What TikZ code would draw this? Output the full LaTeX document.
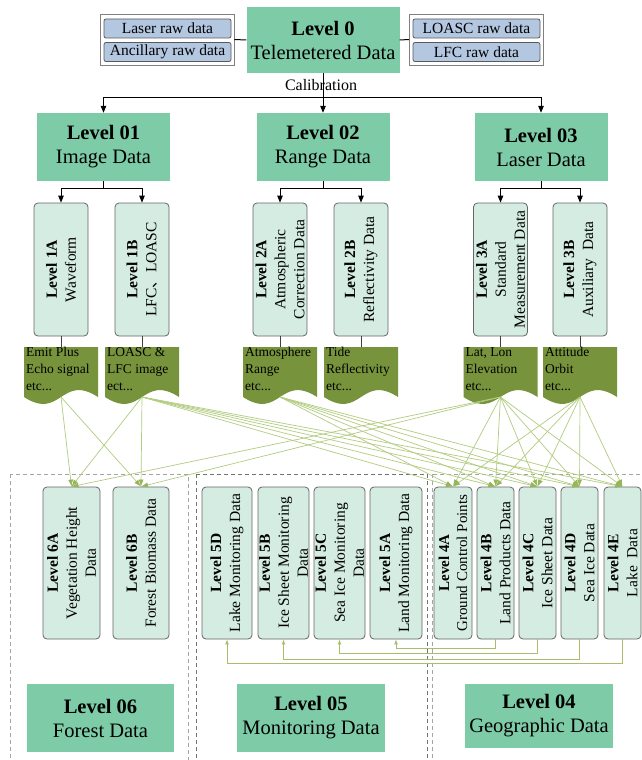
\documentclass[tikz,border=0pt]{standalone}
\usepackage{fontspec}
\setmainfont{Liberation Serif}
\newfontfamily\cjkfont{Noto Sans CJK SC}
\usetikzlibrary{arrows.meta}

\definecolor{lvgreen}{RGB}{126,203,168}
\definecolor{mint}{RGB}{212,236,225}
\definecolor{rawblue}{RGB}{180,199,225}
\definecolor{docolive}{RGB}{119,147,60}
\definecolor{fanline}{RGB}{178,204,128}
\definecolor{fanhead}{RGB}{150,182,88}
\definecolor{loopline}{RGB}{168,190,110}
\definecolor{framegray}{RGB}{165,165,165}

\tikzset{
  levelbox/.style={fill=lvgreen, minimum width=133pt, minimum height=68pt,
    align=center, inner sep=1pt, font=\fontsize{20.5}{24}\selectfont},
  subbox/.style={rotate=90, draw=black!60, fill=mint, line width=0.8pt,
    rounded corners=4pt, align=center, inner sep=1pt,
    font=\fontsize{15.5}{19}\selectfont},
  upperbox/.style={subbox, minimum width=133pt, minimum height=54pt},
  lowerbox/.style={subbox, minimum width=152pt},
  rawouter/.style={draw=black!50, fill=white, line width=0.8pt,
    minimum width=134pt, minimum height=51pt, inner sep=0pt},
  rawbox/.style={draw=black!65, fill=rawblue, rounded corners=2pt,
    line width=0.8pt, minimum width=127pt, minimum height=19pt,
    inner sep=0pt, font=\fontsize{15.5}{18}\selectfont},
  doctext/.style={anchor=north west, align=left, inner xsep=2pt,
    inner ysep=1pt, font=\fontsize{13.5}{17}\selectfont},
  flow/.style={line width=1pt, -{Triangle[length=7pt,width=5.5pt]}},
  plainline/.style={line width=1pt},
  fan/.style={draw=fanline, line width=0.7pt,
    -{Latex[length=7pt,width=5pt,fill=fanhead,color=fanhead]}},
  loopback/.style={draw=loopline, line width=0.9pt,
    -{Latex[length=5pt,width=4pt]}},
  frame/.style={draw=framegray, line width=0.9pt, dash pattern=on 4pt off 3pt},
}

% document symbol: flat top, wavy bottom; #1 name, #2 centre x, #3 text
\newcommand\docshape[3]{%
  \fill[docolive] ({#2-37},347) -- ({#2+37},347) -- ({#2+37},397)
    .. controls (#2,373) and (#2,421) .. ({#2-37},397) -- cycle;
  \node[doctext] (#1) at ({#2-37},346) {#3};
  \coordinate (#1-in) at (#2,347);
  \coordinate (#1-out) at (#2,397);
}

\begin{document}
\begin{tikzpicture}[x=1pt,y=-1pt]
\useasboundingbox (0,0) rectangle (642,760);
\fill[white] (0,0) rectangle (642,760);

% group frames
\draw[frame] (10,474) rectangle (188,770);
\draw[frame, draw=black!55] (196,474) rectangle (427,770);
\draw[frame] (432,474) rectangle (646,770);

% level 0 and raw data
\node[levelbox, minimum width=153pt, minimum height=66pt] (l0) at (323,40)
  {\textbf{Level 0}\\Telemetered Data};
\node[rawouter] (rawl) at (167,39.5) {};
\node[rawbox] (laser) at (167.5,28.5) {Laser raw data};
\node[rawbox] (ancil) at (167.5,52) {Ancillary raw data};
\node[rawouter] (rawr) at (476.5,39.5) {};
\node[rawbox] (loasc) at (476.5,28.5) {LOASC raw data};
\node[rawbox] (lfc) at (476.5,52) {LFC raw data};
\draw[plainline] (rawl.east) -- (l0.west);
\draw[plainline] (rawr.west) -- (l0.east);

% calibration split
\coordinate (calib) at (323,97);
\draw[plainline] (l0.south) -- (calib);
\node[font=\fontsize{16}{18}\selectfont, inner sep=0pt] (caltext) at (321,85) {Calibration};

\node[levelbox] (l01) at (103.5,147) {\textbf{Level 01}\\Image Data};
\node[levelbox] (l02) at (323,147) {\textbf{Level 02}\\Range Data};
\node[levelbox] (l03) at (541,147) {\textbf{Level 03}\\Laser Data};
\draw[flow] (calib) -| (l01.north);
\draw[flow] (calib) -- (l02.north);
\draw[flow] (calib) -| (l03.north);

% level 1 to 3 products
\node[upperbox] (l1a) at (61,269.5) {\textbf{Level 1A}\\Waveform};
\node[upperbox] (l1b) at (142,269.5) {\textbf{Level 1B}\\LFC{\cjkfont 、}LOASC};
\node[upperbox] (l2a) at (280,269.5) {\textbf{Level 2A}\\Atmospheric\\Correction Data};
\node[upperbox] (l2b) at (361,269.5) {\textbf{Level 2B}\\Reflectivity Data};
\node[upperbox] (l3a) at (500.5,269.5) {\textbf{Level 3A}\\Standard\\Measurement Data};
\node[upperbox] (l3b) at (580,269.5) {\textbf{Level 3B}\\Auxiliary\ \ Data};

\coordinate (s01) at (103.5,188);
\coordinate (s02) at (323,188);
\coordinate (s03) at (541,188);
\draw[plainline] (l01.south) -- (s01);
\draw[plainline] (l02.south) -- (s02);
\draw[plainline] (l03.south) -- (s03);
\draw[flow] (s01) -| (l1a.east);
\draw[flow] (s01) -| (l1b.east);
\draw[flow] (s02) -| (l2a.east);
\draw[flow] (s02) -| (l2b.east);
\draw[flow] (s03) -| (l3a.east);
\draw[flow] (s03) -| (l3b.east);

% data documents
\docshape{d1a}{61}{Emit Plus\\Echo signal\\etc...}
\docshape{d1b}{142}{LOASC \&\\LFC image\\ect...}
\docshape{d2a}{280}{Atmosphere\\Range\\etc...}
\docshape{d2b}{361}{Tide\\Reflectivity\\etc...}
\docshape{d3a}{500.5}{Lat, Lon\\Elevation\\etc...}
\docshape{d3b}{580}{Attitude\\Orbit\\etc...}
\foreach \p/\d in {l1a/d1a, l1b/d1b, l2a/d2a, l2b/d2b, l3a/d3a, l3b/d3b}
  \draw[line width=1pt, black!75] (\p.west) -- (\d-in);

% level 4 to 6 products
\node[lowerbox, minimum height=57pt] (l6a) at (71.5,563) {\textbf{Level 6A}\\Vegetation Height\\Data};
\node[lowerbox, minimum height=56pt] (l6b) at (141,563) {\textbf{Level 6B}\\Forest Biomass Data};
\node[lowerbox, minimum height=50pt] (l5d) at (227,563) {\textbf{Level 5D}\\Lake Monitoring Data};
\node[lowerbox, minimum height=51pt] (l5b) at (283.5,563) {\textbf{Level 5B}\\Ice Sheet Monitoring\\Data};
\node[lowerbox, minimum height=51pt] (l5c) at (339.5,563) {\textbf{Level 5C}\\Sea Ice Monitoring\\Data};
\node[lowerbox, minimum height=52pt] (l5a) at (396,563) {\textbf{Level 5A}\\Land Monitoring Data};
\node[lowerbox, minimum height=38pt, font=\fontsize{15}{18}\selectfont] (l4a) at (453,563) {\textbf{Level 4A}\\Ground Control Points};
\node[lowerbox, minimum height=37pt] (l4b) at (495.5,563) {\textbf{Level 4B}\\Land Products Data};
\node[lowerbox, minimum height=37pt] (l4c) at (537.5,563) {\textbf{Level 4C}\\Ice Sheet Data};
\node[lowerbox, minimum height=37pt] (l4d) at (579.5,563) {\textbf{Level 4D}\\Sea Ice Data};
\node[lowerbox, minimum height=37pt] (l4e) at (622.5,563) {\textbf{Level 4E}\\Lake\ \ Data};

% derivation links
\foreach \s/\t in {d1a/l6a, d1a/l6b,
    d1b/l6a, d1b/l6b, d1b/l4a, d1b/l4b, d1b/l4c, d1b/l4d, d1b/l4e,
    d2a/l4a, d2a/l4b, d2a/l4c, d2a/l4d, d2a/l4e,
    d3a/l6a, d3a/l6b, d3a/l4a, d3a/l4b, d3a/l4c, d3a/l4d, d3a/l4e,
    d3b/l4a, d3b/l4b, d3b/l4c, d3b/l4d, d3b/l4e}
  \draw[fan] (\s-out) -- (\t.east);

% geographic data feeding the monitoring products
\draw[loopback] (l4b.west) -- ++(0,9) -| (l5a.west);
\draw[loopback] (l4c.west) -- ++(0,14) -| (l5c.west);
\draw[loopback] (l4d.west) -- ++(0,20) -| (l5b.west);
\draw[loopback] (l4e.west) -- ++(0,24) -| (l5d.west);

% group titles
\node[levelbox, minimum width=147pt] (l06) at (100.5,718) {\textbf{Level 06}\\Forest Data};
\node[levelbox, minimum width=148pt] (l05) at (311,718) {\textbf{Level 05}\\Monitoring Data};
\node[levelbox, minimum width=148pt, minimum height=64pt] (l04) at (539,716) {\textbf{Level 04}\\Geographic Data};
\end{tikzpicture}
\end{document}
